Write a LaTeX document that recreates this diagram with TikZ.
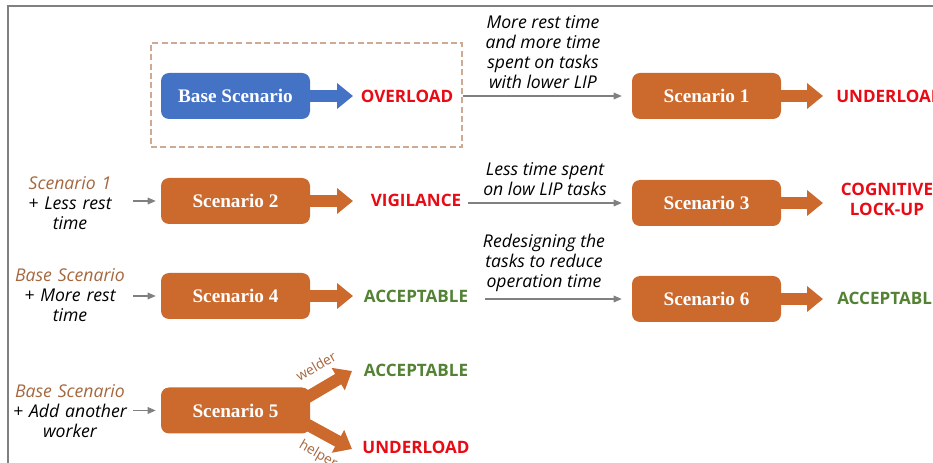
\documentclass[tikz,border=0pt]{standalone}
\usepackage{fontspec}
\setmainfont{Liberation Serif}
\newfontfamily\osans{Open Sans}
\usetikzlibrary{arrows.meta}
\definecolor{scblue}{RGB}{68,114,196}
\definecolor{scorange}{RGB}{204,106,46}
\definecolor{scbrown}{RGB}{165,103,63}
\definecolor{scred}{RGB}{232,10,20}
\definecolor{scgreen}{RGB}{84,130,53}
\definecolor{scgray}{RGB}{128,128,128}
\definecolor{sctan}{RGB}{205,170,145}

\begin{document}
\begin{tikzpicture}[x=0.75pt,y=-0.75pt]
   \tikzset{ScenStyle/.style={rounded corners=6pt, fill=scorange, minimum width=111.75pt, minimum height=34.5pt, inner sep=0pt, text=white, font=\fontsize{14.4}{17}\selectfont\bfseries}}
   \tikzset{StateStyle/.style={inner sep=0pt, align=center, font=\osans\fontsize{12.8}{15}\selectfont\bfseries}}
   \tikzset{NoteStyle/.style={inner sep=0pt, align=center, font=\osans\fontsize{13.2}{15}\selectfont\itshape}}
   \tikzset{InStyle/.style={NoteStyle, text width=94.5pt}}
   \tikzset{RoleStyle/.style={inner sep=0pt, text=scbrown, font=\osans\fontsize{10.3}{11}\selectfont}}
   \tikzset{FlowStyle/.style={draw=scgray, line width=0.8pt, -{Triangle[length=6pt,width=5pt]}}}
   \tikzset{BlockStyle/.style={draw=scorange, line width=9pt, -{Triangle[length=12pt,width=18.75pt]}}}
   \useasboundingbox (0,0) rectangle (933,463);
   \clip (0,0) rectangle (933,463);
   \draw[scgray, line width=1.5pt] (8,470) -- (8,6) -- (940,6);
   \node[draw=sctan, line width=1.1pt, dash pattern=on 4.5pt off 2.5pt, minimum width=233.25pt, minimum height=78pt, inner sep=0pt] (dbox) at (306.5,95) {};
   \node[ScenStyle, fill=scblue] (base) at (235.5,96) {Base Scenario};
   \node[ScenStyle] (s1) at (706.5,96) {Scenario 1};
   \node[ScenStyle] (s2) at (235.5,201) {Scenario 2};
   \node[ScenStyle] (s3) at (706.5,203) {Scenario 3};
   \node[ScenStyle] (s4) at (235.5,296) {Scenario 4};
   \node[ScenStyle] (s6) at (706.5,299) {Scenario 6};
   \node[ScenStyle] (s5) at (235.5,410.5) {Scenario 5};
   \node[StateStyle, text=scred] (ov) at (407,96) {OVERLOAD};
   \node[StateStyle, text=scred, anchor=west] (ud1) at (836,96) {UNDERLOAD};
   \node[StateStyle, text=scred] (vig) at (416,200) {VIGILANCE};
   \node[StateStyle, text=scred] (cog) at (887,199) {COGNITIVE\\LOCK-UP};
   \node[StateStyle, text=scgreen] (acc4) at (416,296) {ACCEPTABLE};
   \node[StateStyle, text=scgreen, anchor=west] (acc6) at (837,298) {ACCEPTABLE};
   \node[StateStyle, text=scgreen] (acc5) at (416,370) {ACCEPTABLE};
   \node[StateStyle, text=scred] (ud5) at (416,447) {UNDERLOAD};
   \node[NoteStyle] (n1) at (543,52) {More rest time\\and more time\\spent on tasks\\with lower LIP};
   \node[NoteStyle] (n3) at (545,179.5) {Less time spent\\on low LIP tasks};
   \node[NoteStyle] (n6) at (544,263) {Redesigning the\\tasks to reduce\\operation time};
   \node[InStyle] (in2) at (70,203) {\textcolor{scbrown}{Scenario 1}\\+ Less rest\\time};
   \node[InStyle] (in4) at (70,295) {\textcolor{scbrown}{Base Scenario}\\+ More rest\\time};
   \node[InStyle] (in5) at (70,411) {\textcolor{scbrown}{Base Scenario}\\+ Add another\\worker};
   \node[RoleStyle, rotate=30] (wld) at (316,366) {welder};
   \node[RoleStyle, rotate=-30] (hlp) at (318,455) {helper};
   \coordinate (t0) at (353,96);
   \coordinate (t1) at (823,96);
   \coordinate (t2) at (353,201);
   \coordinate (t3) at (823,203);
   \coordinate (t4) at (353,296);
   \coordinate (t6) at (823,299);
   \coordinate (t5a) at (352,371);
   \coordinate (t5b) at (352,449);
   \draw[BlockStyle, draw=scblue] (base.east) -- (t0);
   \draw[BlockStyle] (s1.east) -- (t1);
   \draw[BlockStyle] (s2.east) -- (t2);
   \draw[BlockStyle] (s3.east) -- (t3);
   \draw[BlockStyle] (s4.east) -- (t4);
   \draw[BlockStyle] (s6.east) -- (t6);
   \draw[BlockStyle] ([shift={(-5,-12)}]s5.east) -- (t5a);
   \draw[BlockStyle] ([shift={(-5,13)}]s5.east) -- (t5b);
   \draw[FlowStyle, shorten >=7.5pt] (dbox.east |- ov) -- (s1.west);
   \draw[FlowStyle, shorten <=4.5pt, shorten >=7.5pt] (vig.east |- s3) -- (s3.west);
   \draw[FlowStyle, shorten <=12.75pt, shorten >=7.5pt] (acc4.east |- s6) -- (s6.west);
   \draw[FlowStyle, shorten >=3.75pt] (in2.east |- s2) -- (s2.west);
   \draw[FlowStyle, shorten >=3.75pt] (in4.east |- s4) -- (s4.west);
   \draw[FlowStyle, shorten >=3.75pt] (in5.east |- s5) -- (s5.west);
\end{tikzpicture}
\end{document}
